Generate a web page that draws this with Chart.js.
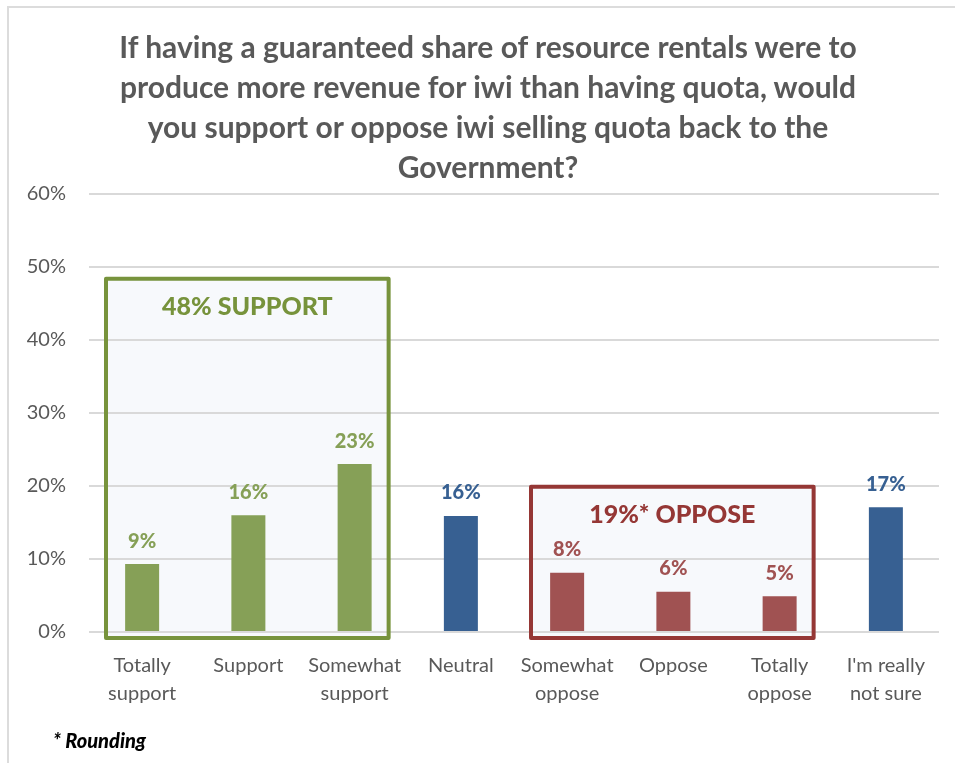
<!DOCTYPE html>
<html>
<head>
<meta charset="utf-8">
<script src="https://cdn.jsdelivr.net/npm/chart.js@4.4.1/dist/chart.umd.min.js"></script>
<style>
  html, body { margin: 0; padding: 0; background: #ffffff; }
  #wrap { position: relative; width: 955px; height: 763px; overflow: hidden; }
  #frame { position: absolute; left: 7px; top: 6px; width: 1000px; height: 800px;
           border-left: 2px solid #dcdcdc; border-top: 2px solid #dcdcdc; }
  canvas { position: absolute; left: 0; top: 0; }
  #title { position: absolute; left: 0; top: 26px; width: 976px; text-align: center;
           font: bold 30px/40px Lato, sans-serif; color: #595959; }
  #note { position: absolute; left: 53px; top: 728px; font: italic 900 20px Lato, sans-serif; color: #000; }
</style>
</head>
<body>
<div id="wrap">
  <div id="frame"></div>
  <canvas id="mainChart" width="955" height="763"></canvas>
  <div id="title"></div>
  <div id="note">* Rounding</div>
</div>
<script>
// Dados do gráfico
const categories = [
    ['Totally', 'support'], 'Support', ['Somewhat', 'support'], 'Neutral',
    ['Somewhat', 'oppose'], 'Oppose', ['Totally', 'oppose'], ["I'm really", 'not sure']
];
const values = [9.3, 16.0, 23.0, 15.9, 8.1, 5.5, 4.9, 17.1];
const valueLabels = ['9%', '16%', '23%', '16%', '8%', '6%', '5%', '17%'];
const yTicks = [0, 10, 20, 30, 40, 50, 60];

// Grupos (caixas)
const groupLabels = ['48% SUPPORT', '19%* OPPOSE'];
const groupStart = [0, 4];
const groupEnd = [2, 6];
const groupTop = [48.4, 19.9];

const titleLines = [
    'If having a guaranteed share of resource rentals were to',
    'produce more revenue for iwi than having quota, would',
    'you support or oppose iwi selling quota back to the',
    'Government?'
];

const GREEN = '#86A057', BLUE = '#376092', RED = '#A05252';
const barColors = [GREEN, GREEN, GREEN, BLUE, RED, RED, RED, BLUE];
const groupColors = ['#77933C', '#953735'];
const FONT = 'Lato, sans-serif';

// Título em HTML (texto real)
const titleEl = document.getElementById('title');
titleLines.forEach(line => {
    const d = document.createElement('div');
    d.textContent = line;
    titleEl.appendChild(d);
});

// Caixas de grupo
const groupBoxes = {
    id: 'groupBoxes',
    _box(chart, g) {
        const x = chart.scales.x, y = chart.scales.y;
        const cw = x.getPixelForValue(1) - x.getPixelForValue(0);
        return {
            l: x.getPixelForValue(groupStart[g]) - 0.34 * cw,
            r: x.getPixelForValue(groupEnd[g]) + 0.32 * cw,
            t: y.getPixelForValue(groupTop[g]),
            b: y.getPixelForValue(0) + 6
        };
    },
    beforeDraw(chart) {
        const ctx = chart.ctx;
        ctx.save();
        ctx.fillStyle = '#F7F9FC';
        groupLabels.forEach((lab, g) => {
            const b = this._box(chart, g);
            ctx.fillRect(b.l, b.t, b.r - b.l, b.b - b.t);
        });
        ctx.restore();
    },
    afterDatasetsDraw(chart) {
        const ctx = chart.ctx;
        ctx.save();
        groupLabels.forEach((lab, g) => {
            const b = this._box(chart, g);
            ctx.strokeStyle = groupColors[g];
            ctx.lineWidth = 4;
            ctx.lineJoin = 'round';
            ctx.strokeRect(b.l, b.t, b.r - b.l, b.b - b.t);
            ctx.fillStyle = groupColors[g];
            ctx.font = '900 25px ' + FONT;
            ctx.textAlign = 'center';
            ctx.textBaseline = 'middle';
            ctx.fillText(lab, (b.l + b.r) / 2, b.t + 28);
        });
        ctx.restore();
    }
};

// Rótulos de valor acima das barras
const barLabels = {
    id: 'barLabels',
    afterDatasetsDraw(chart) {
        const ctx = chart.ctx;
        const meta = chart.getDatasetMeta(0);
        ctx.save();
        ctx.font = '900 20px ' + FONT;
        ctx.textAlign = 'center';
        ctx.textBaseline = 'middle';
        meta.data.forEach((el, i) => {
            ctx.fillStyle = barColors[i];
            ctx.fillText(valueLabels[i], el.x, el.y - 23);
        });
        ctx.restore();
    }
};

new Chart(document.getElementById('mainChart'), {
    type: 'bar',
    data: {
        labels: categories,
        datasets: [{
            data: values,
            backgroundColor: barColors,
            barPercentage: 0.32,
            categoryPercentage: 1
        }]
    },
    options: {
        responsive: false,
        animation: false,
        layout: { padding: { left: 0, right: 16, top: 194, bottom: 0 } },
        plugins: {
            legend: { display: false },
            tooltip: { enabled: false },
            title: { display: false }
        },
        scales: {
            y: {
                min: 0,
                max: 60,
                afterBuildTicks: (s) => { s.ticks = yTicks.map(v => ({ value: v })); },
                afterFit: (s) => { s.width = 89; },
                border: { display: false },
                grid: { color: '#d9d9d9', lineWidth: 2, drawTicks: false },
                ticks: {
                    padding: 23,
                    color: '#595959',
                    font: { family: FONT, size: 20 },
                    callback: (v) => v + '%'
                }
            },
            x: {
                afterFit: (s) => { s.height = 131; },
                border: { display: false },
                grid: { display: false, drawTicks: false },
                ticks: {
                    padding: 20,
                    color: '#595959',
                    maxRotation: 0,
                    autoSkip: false,
                    font: { family: FONT, size: 20, lineHeight: 1.4 }
                }
            }
        }
    },
    plugins: [groupBoxes, barLabels]
});
</script>
</body>
</html>
